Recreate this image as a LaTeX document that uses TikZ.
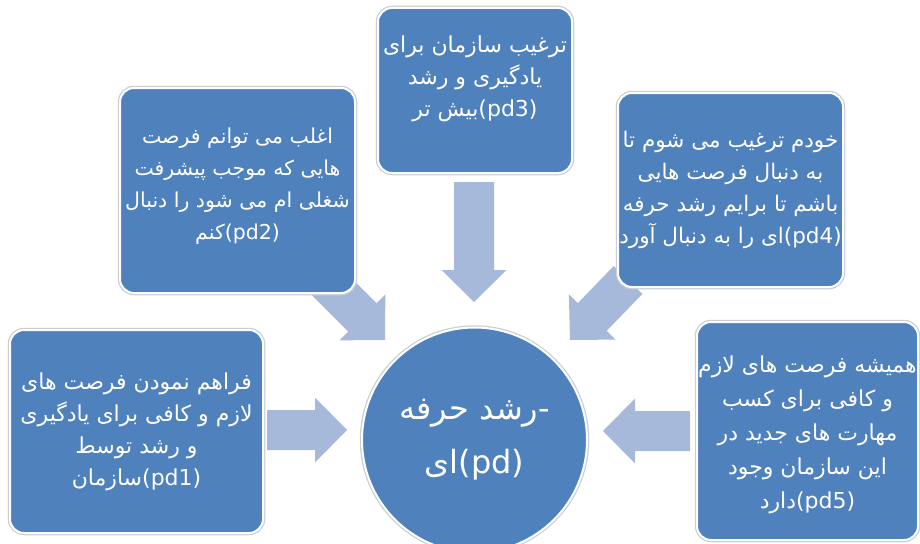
\documentclass[tikz,border=0pt]{standalone}
\usepackage{fontspec}
\setmainfont{DejaVu Sans}
\newfontfamily\arabicfont[Script=Arabic]{DejaVu Sans}
\TeXXeTstate=1
\usetikzlibrary{calc}
\definecolor{boxblue}{HTML}{4F81BD}
\definecolor{arrcol}{HTML}{A7B9DA}
\definecolor{halo}{HTML}{C8CFDA}
\newcommand\myfa[1]{{\arabicfont\beginR #1\endR}}
\newcommand\blockarr[2]{%
  \path ($(#2)!32pt!(#1)$) coordinate (#2h);
  \fill[arrowfill] ($(#1)!20pt!90:(#2)$) -- ($(#2h)!20pt!90:(#2)$) -- ($(#2h)!32.5pt!90:(#2)$) -- (#2) -- ($(#2h)!32.5pt!-90:(#2)$) -- ($(#2h)!20pt!-90:(#2)$) -- ($(#1)!20pt!-90:(#2)$) -- cycle;}
\tikzset{
  arrowfill/.style={fill=arrcol},
  fabox/.style={rectangle, rounded corners=14pt, fill=boxblue, draw=white, line width=2pt,
    preaction={draw=halo, line width=4.5pt}},
  fatext/.style={text=white, align=center, inner sep=0pt, font=\fontsize{22}{32}\selectfont},
  facircle/.style={circle, fill=boxblue, draw=white, line width=2pt,
    preaction={draw=halo, line width=4.5pt}, text=white, align=center, minimum size=225pt,
    font=\fontsize{32}{54}\selectfont}
}
\begin{document}
\begin{tikzpicture}[x=1pt,y=-1pt]
\useasboundingbox (0,0) rectangle (920,543);
\clip (0,0) rectangle (920,543);
\fill[white] (0,0) rectangle (920,543);
% arrow end points
\coordinate (s1) at (267,430);  \coordinate (t1) at (347,430);
\coordinate (s2) at (325,280);  \coordinate (t2) at (385,340);
\coordinate (s3) at (474,182);  \coordinate (t3) at (474,302);
\coordinate (s4) at (628,280);  \coordinate (t4) at (570,340);
\coordinate (s5) at (690,431);  \coordinate (t5) at (603,431);
\blockarr{s1}{t1}
\blockarr{s2}{t2}
\blockarr{s3}{t3}
\blockarr{s4}{t4}
\blockarr{s5}{t5}
% boxes
\node[fabox, minimum width=253pt, minimum height=203pt] (pd1) at (136.5,431.5) {};
\node[fabox, minimum width=235pt, minimum height=205pt] (pd2) at (237.5,190.5) {};
\node[fabox, minimum width=194pt, minimum height=165pt] (pd3) at (475,90.5) {};
\node[fabox, minimum width=225pt, minimum height=194pt] (pd4) at (730.5,190) {};
\node[fabox, minimum width=221pt, minimum height=218pt] (pd5) at (807.5,431) {};
% texts
\node[fatext] (pd1t) at (pd1)
  {\myfa{فراهم نمودن  فرصت های}\\ \myfa{لازم و کافی برای یادگیری}\\ \myfa{و رشد توسط}\\ \myfa{سازمان}(pd1)};
\node[fatext, font=\fontsize{20.5}{32}\selectfont] (pd2t) at ([yshift=4pt]pd2.center)
  {\myfa{اغلب می توانم فرصت}\\ \myfa{هایی که موجب پیشرفت}\\ \myfa{شغلی ام می شود را دنبال}\\ \myfa{کنم}(pd2)};
\node[fatext] (pd3t) at ([yshift=12pt]pd3.center)
  {\myfa{ترغیب سازمان برای}\\ \myfa{یادگیری و رشد}\\ \myfa{بیش تر}(pd3)};
\node[fatext, font=\fontsize{21.5}{32}\selectfont] (pd4t) at (pd4)
  {\myfa{خودم ترغیب می شوم تا}\\ \myfa{به دنبال فرصت هایی}\\ \myfa{باشم تا برایم رشد حرفه}\\ \myfa{ای را به دنبال آورد}(pd4)};
\node[fatext, font=\fontsize{22}{34}\selectfont] (pd5t) at ([yshift=-4pt]pd5.center)
  {\myfa{همیشه فرصت های لازم}\\ \myfa{و کافی برای کسب}\\ \myfa{مهارت های جدید در}\\ \myfa{این سازمان وجود}\\ \myfa{دارد}(pd5)};
\node[facircle] (c) at (474.5,440) {\myfa{رشد حرفه}-\\ \myfa{ای}(pd)};
\end{tikzpicture}
\end{document}
